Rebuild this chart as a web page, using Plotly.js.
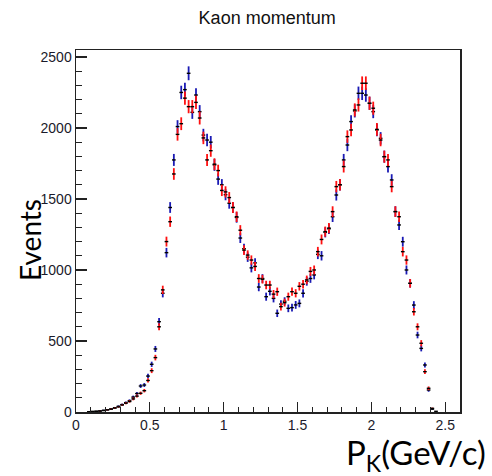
<!DOCTYPE html>
<html>
<head>
<meta charset="utf-8">
<script src="https://cdn.plot.ly/plotly-3.0.1.min.js"></script>
<style>
  html, body { margin: 0; padding: 0; background: #fff; }
  #chart { width: 492px; height: 476px; }
</style>
</head>
<body>
<div id="chart"></div>
<script>
// Histogram binning: 100 bins of 0.025 GeV/c from 0 to 2.5
const binStart = 0.0;
const binWidth = 0.025;

// Entries per bin, first sample (blue)
const countsBlue = [
  0, 0, 0, 1, 3, 5, 8, 12, 16, 22,
  30, 40, 52, 66, 80, 105, 130, 183, 190, 253,
  336, 444, 636, 836, 1122, 1440, 1775, 2010, 2250, 2270,
  2385, 2110, 2232, 2115, 1950, 1915, 1900, 1740, 1640, 1600,
  1530, 1470, 1440, 1370, 1225, 1150, 1090, 1015, 1050, 880,
  940, 812, 850, 800, 695, 760, 780, 730, 735, 754,
  765, 836, 920, 940, 965, 1110, 1100, 1265, 1290, 1375,
  1528, 1600, 1775, 1880, 2045, 2120, 2244, 2244, 2232, 2174,
  2115, 1986, 1927, 1798, 1728, 1634, 1411, 1317, 1199, 1000,
  906, 753, 542, 448, 331, 155, 20, 0, 0, 0
];

// Entries per bin, second sample (red)
const countsRed = [
  0, 0, 0, 2, 4, 5, 6, 10, 15, 20,
  28, 36, 50, 62, 74, 92, 112, 132, 150, 222,
  291, 383, 600, 860, 1200, 1340, 1676, 1955, 2030, 2210,
  2150, 2150, 2180, 2070, 1930, 1775, 1840, 1745, 1700, 1560,
  1550, 1510, 1440, 1375, 1280, 1140, 1105, 1070, 1025, 940,
  935, 894, 894, 830, 847, 742, 770, 812, 847, 836,
  885, 900, 930, 990, 1000, 1129, 1215, 1270, 1295, 1411,
  1587, 1600, 1728, 1939, 1986, 2127, 2162, 2315, 2315, 2174,
  2139, 1990, 1915, 1798, 1775, 1587, 1411, 1375, 1129, 1070,
  906, 706, 600, 484, 284, 167, 26, 5, 0, 0
];

// Axis ticks
const xTickVals = [0, 0.5, 1, 1.5, 2, 2.5];
const xTickText = ['0', '0.5', '1', '1.5', '2', '2.5'];
const yTickVals = [0, 500, 1000, 1500, 2000, 2500];
const yTickText = ['0', '500', '1000', '1500', '2000', '2500'];

function histTrace(counts, color, name) {
  const xs = [], ys = [], errs = [];
  counts.forEach((n, i) => {
    if (n <= 0) return;                       // empty bins are not drawn
    xs.push(binStart + binWidth * (i + 0.5));
    ys.push(n);
    errs.push(Math.sqrt(n));                  // Poisson errors
  });
  return {
    type: 'scatter',
    mode: 'markers',
    name: name,
    x: xs,
    y: ys,
    marker: { size: 1, color: 'rgba(0,0,0,0)' },
    error_y: { type: 'data', array: errs, visible: true, color: color, thickness: 1.8, width: 0 },
    error_x: { type: 'constant', value: binWidth / 2, visible: true, color: '#000', thickness: 1.4, width: 0 },
    hoverinfo: 'x+y'
  };
}

const data = [
  histTrace(countsBlue, '#1a1ab4', 'sample 1'),
  histTrace(countsRed, '#ff1010', 'sample 2')
];

const tickFont = { family: 'Liberation Sans, Arial, sans-serif', size: 14, color: '#1a1a2a' };

const layout = {
  width: 492,
  height: 476,
  margin: { l: 76, r: 32, t: 50, b: 64 },
  paper_bgcolor: '#fff',
  plot_bgcolor: '#fff',
  showlegend: false,
  title: {
    text: 'Kaon momentum',
    font: { family: 'Liberation Sans, Arial, sans-serif', size: 18, color: '#111' },
    x: 0.543, xanchor: 'center',
    y: 0.962, yanchor: 'middle'
  },
  xaxis: {
    range: [0, 2.6],
    tickvals: xTickVals,
    ticktext: xTickText,
    ticks: 'inside',
    ticklen: 10,
    tickwidth: 1.2,
    tickcolor: '#222',
    minor: { dtick: 0.1, ticks: 'inside', ticklen: 5, tickwidth: 1, tickcolor: '#222' },
    showline: true,
    linecolor: '#222',
    linewidth: 1.5,
    mirror: true,
    showgrid: false,
    zeroline: false,
    tickfont: tickFont
  },
  yaxis: {
    range: [0, 2549],
    tickvals: yTickVals,
    ticktext: yTickText,
    ticks: 'inside',
    ticklen: 11,
    tickwidth: 1.2,
    tickcolor: '#222',
    minor: { dtick: 100, ticks: 'inside', ticklen: 6, tickwidth: 1, tickcolor: '#222' },
    showline: true,
    linecolor: '#222',
    linewidth: 1.5,
    mirror: true,
    showgrid: false,
    zeroline: false,
    tickfont: tickFont
  },
  annotations: [
    {
      // y-axis title
      text: 'Events',
      textangle: -90,
      xref: 'paper', yref: 'paper',
      x: -0.12, y: 0.475,
      xanchor: 'center', yanchor: 'middle',
      showarrow: false,
      font: { family: 'Lato, Open Sans, sans-serif', size: 28, color: '#000' }
    },
    {
      // x-axis title
      text: 'P<sub>K</sub>(GeV/c)',
      xref: 'paper', yref: 'paper',
      x: 1.074, y: -0.118,
      xanchor: 'right', yanchor: 'middle',
      showarrow: false,
      font: { family: 'Lato, Open Sans, sans-serif', size: 33, color: '#000' }
    }
  ]
};

Plotly.newPlot('chart', data, layout, { staticPlot: true, displayModeBar: false });
</script>
</body>
</html>
